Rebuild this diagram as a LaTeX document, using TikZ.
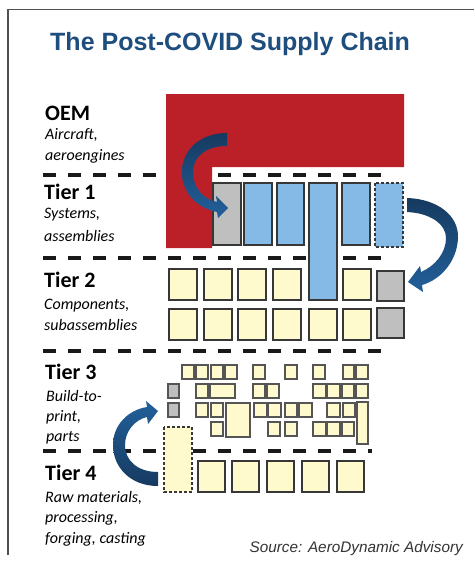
\documentclass[tikz,border=0pt]{standalone}
\usepackage{fontspec}
\setmainfont{Carlito}
\newfontfamily\titlefont{Liberation Sans}
\definecolor{titleblue}{RGB}{30,78,126}
\definecolor{oemred}{RGB}{187,32,40}
\definecolor{boxblue}{RGB}{133,186,230}
\definecolor{boxgray}{RGB}{191,191,191}
\definecolor{boxyellow}{RGB}{255,249,206}
\definecolor{boxline}{RGB}{55,55,55}
\definecolor{arrowdark}{RGB}{22,58,96}
\definecolor{arrowlight}{RGB}{34,96,154}
\definecolor{framegray}{RGB}{80,80,80}
\begin{document}
\begin{tikzpicture}[x=1pt,y=-1pt,
  tierline/.style={line width=3.6pt,dash pattern=on 13pt off 12pt,draw=black!90},
  bigbox/.style={draw=boxline,line width=1.5pt},
  smallbox/.style={draw=boxline!85,line width=1.7pt,fill=boxyellow},
  dashbox/.style={draw=boxline,line width=1.4pt,dash pattern=on 3pt off 2pt},
  tiername/.style={anchor=base west,inner sep=0pt,font=\fontsize{22}{24}\selectfont\bfseries},
  tiersub/.style={anchor=base west,inner sep=0pt,font=\fontsize{16}{20}\selectfont\itshape},
  arrowfill/.style={top color=arrowdark,bottom color=arrowlight,draw=none}
]
\useasboundingbox (0,0) rectangle (474,562);
\fill[white] (0,0) rectangle (474,562);
% frame
\draw[framegray,line width=1.4pt] (8,555) -- (8,9.5) -- (474,9.5);
% title
\node[anchor=base west,inner sep=0pt,text=titleblue,font=\titlefont\fontsize{25}{28}\selectfont\bfseries] (title) at (50,50) {The Post-COVID Supply Chain};
% tier labels
\node[tiername] (oem) at (45,120) {OEM};
\node[tiersub] (oemA) at (45,139) {Aircraft,};
\node[tiersub] (oemB) at (45,160) {aeroengines};
\node[tiername] (t1) at (44,199) {Tier 1};
\node[tiersub] (t1A) at (44,218) {Systems,};
\node[tiersub] (t1B) at (44,241) {assemblies};
\node[tiername] (t2) at (44,287) {Tier 2};
\node[tiersub] (t2A) at (44,309) {Components,};
\node[tiersub] (t2B) at (44,330) {subassemblies};
\node[tiername] (t3) at (45,379) {Tier 3};
\node[tiersub] (t3A) at (46,401) {Build-to-};
\node[tiersub] (t3B) at (46,421) {print,};
\node[tiersub] (t3C) at (46,441) {parts};
\node[tiername] (t4) at (45,480) {Tier 4};
\node[tiersub] (t4A) at (45,502) {Raw materials,};
\node[tiersub] (t4B) at (45,522) {processing,};
\node[tiersub] (t4C) at (45,543) {forging, casting};
\node[anchor=base east,inner sep=0pt,text=black!80,font=\titlefont\fontsize{15.3}{18}\selectfont\itshape] (src) at (463,552) {Source: AeroDynamic Advisory};
% dashed separators
\draw[tierline] (43,175) -- (381,175);
\draw[tierline] (43,258) -- (381,258);
\draw[tierline] (43,351) -- (381,351);
\draw[tierline] (43,451) -- (372,451);
% OEM shape
\fill[oemred] (166,94) -- (404,94) -- (404,167) -- (212,167) -- (212,248) -- (166,248) -- cycle;
% Tier 1
\draw[bigbox,fill=boxgray] (213,183) rectangle (241,245);
\draw[bigbox,fill=boxblue] (244,183) rectangle (272,245);
\draw[bigbox,fill=boxblue] (277,183) rectangle (304,245);
\draw[bigbox,fill=boxblue] (342,183) rectangle (370,245);
\draw[dashbox,fill=boxblue] (375,183) rectangle (403,247);
% Tier 2
\foreach \xa/\xb in {169/197,204/232,238/266,273/301,343/371}{
  \draw[bigbox,fill=boxyellow] (\xa,269) rectangle (\xb,300);
}
\foreach \xa/\xb in {169/197,204/232,238/266,273/301,309/337,343/371}{
  \draw[bigbox,fill=boxyellow] (\xa,309) rectangle (\xb,340);
}
\draw[bigbox,fill=boxgray] (377,271) rectangle (404,301);
\draw[bigbox,fill=boxgray] (377,308) rectangle (404,338);
\draw[bigbox,fill=boxblue] (309,183) rectangle (337,300);
% Tier 3
\foreach \xa/\xb in {182/194,196/208,211/223,225/237,253/265,285/297,313/325,343/354,356/368}{
  \draw[smallbox] (\xa,365) rectangle (\xb,379);
}
\foreach \xa/\xb in {196/208,210/235,253/265,267/279,313/326,327/340,342/354,356/368}{
  \draw[smallbox] (\xa,384) rectangle (\xb,398);
}
\foreach \xa/\xb in {196/208,211/223,254/267,268/281,285/297,299/312,327/340,343/355}{
  \draw[smallbox] (\xa,403) rectangle (\xb,417);
}
\foreach \xa/\xb in {211/223,268/280,285/297,313/326,327/340,342/354}{
  \draw[smallbox] (\xa,422) rectangle (\xb,436);
}
\draw[smallbox] (226,403) rectangle (250,437);
\draw[smallbox] (357,402) rectangle (368,444);
\draw[smallbox,fill=boxgray] (168,384) rectangle (179,398);
\draw[smallbox,fill=boxgray] (168,403) rectangle (179,417);
% Tier 4
\draw[dashbox,fill=boxyellow] (164,427) rectangle (192,492);
\foreach \xa/\xb in {198/225,232/259,267/294,302/329,337/364}{
  \draw[bigbox,fill=boxyellow] (\xa,461) rectangle (\xb,492);
}
% arrows
\path[arrowfill] (227,133) .. controls (200,133) and (182,150) .. (182,172) .. controls (182,194) and (198,208) .. (217,212) -- (218,218) -- (228,208) -- (216,196) -- (217,202) .. controls (203,199) and (193,188) .. (193,172) .. controls (193,156) and (207,146) .. (227,146) -- cycle;
\path[arrowfill] (407,198) .. controls (438,199) and (459,216) .. (458,238) .. controls (457,262) and (440,280) .. (422,285) -- (423,292) -- (408,282) -- (420,266) -- (421,272) .. controls (435,266) and (446,253) .. (446,238) .. controls (446,224) and (430,213) .. (407,212) -- cycle;
\path[top color=arrowlight,bottom color=arrowdark] (158,486) .. controls (130,486) and (113,467) .. (113,445) .. controls (113,425) and (128,410) .. (147,407) -- (146,401) -- (158,411) -- (148,424) -- (147,417) .. controls (134,420) and (125,432) .. (125,445) .. controls (125,461) and (138,472) .. (158,472) -- cycle;
\end{tikzpicture}
\end{document}
